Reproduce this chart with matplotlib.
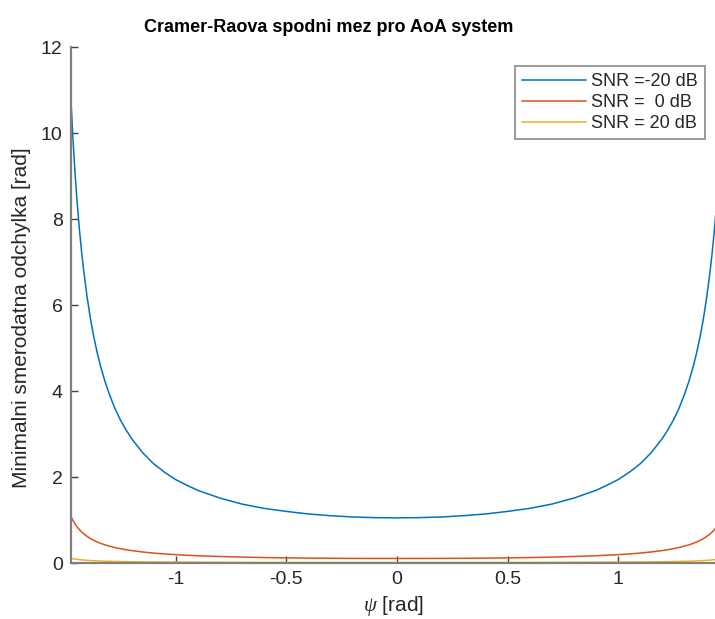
import matplotlib
matplotlib.use("Agg")
import matplotlib.pyplot as plt

plt.rcParams["font.family"] = ["Liberation Sans", "DejaVu Sans"]
plt.rcParams["axes.unicode_minus"] = False
plt.rcParams["mathtext.fontset"] = "custom"
plt.rcParams["mathtext.it"] = "Liberation Serif:italic"

# Angle psi [rad]
psi = [-1.473, -1.465, -1.455, -1.445, -1.435, -1.425, -1.415, -1.40, -1.385,
       -1.37, -1.355, -1.34, -1.32, -1.30, -1.275, -1.25, -1.225, -1.20,
       -1.15, -1.10, -1.05, -1.0, -0.95, -0.9, -0.8, -0.7, -0.6, -0.5, -0.4,
       -0.3, -0.2, -0.1, 0.0,
       0.1, 0.2, 0.3, 0.4, 0.5, 0.6, 0.7, 0.8, 0.9, 0.95, 1.0, 1.05, 1.10,
       1.15, 1.20, 1.225, 1.25, 1.275, 1.30, 1.32, 1.34, 1.355, 1.37, 1.385,
       1.40, 1.415, 1.425, 1.435, 1.442]

# Minimum standard deviation [rad] for each SNR
crb_m20 = [10.76, 9.94, 9.09, 8.37, 7.76, 7.23, 6.77, 6.18, 5.68, 5.26, 4.90,
           4.59, 4.23, 3.93, 3.60, 3.33, 3.10, 2.90, 2.57, 2.31, 2.11, 1.94,
           1.81, 1.69, 1.51, 1.37, 1.27, 1.20, 1.14, 1.10, 1.07, 1.055, 1.05,
           1.055, 1.07, 1.10, 1.14, 1.20, 1.27, 1.37, 1.51, 1.69, 1.81, 1.94,
           2.11, 2.31, 2.57, 2.90, 3.10, 3.33, 3.60, 3.93, 4.23, 4.59, 4.90,
           5.26, 5.68, 6.18, 6.77, 7.23, 7.76, 8.18]
crb_0 = [1.076, 0.994, 0.909, 0.837, 0.776, 0.723, 0.677, 0.618, 0.568, 0.526,
         0.490, 0.459, 0.423, 0.393, 0.360, 0.333, 0.310, 0.290, 0.257, 0.231,
         0.211, 0.194, 0.181, 0.169, 0.151, 0.137, 0.127, 0.120, 0.114, 0.110,
         0.107, 0.1055, 0.105,
         0.1055, 0.107, 0.110, 0.114, 0.120, 0.127, 0.137, 0.151, 0.169,
         0.181, 0.194, 0.211, 0.231, 0.257, 0.290, 0.310, 0.333, 0.360, 0.393,
         0.423, 0.459, 0.490, 0.526, 0.568, 0.618, 0.677, 0.723, 0.776, 0.818]
crb_20 = [0.1076, 0.0994, 0.0909, 0.0837, 0.0776, 0.0723, 0.0677, 0.0618,
          0.0568, 0.0526, 0.0490, 0.0459, 0.0423, 0.0393, 0.0360, 0.0333,
          0.0310, 0.0290, 0.0257, 0.0231, 0.0211, 0.0194, 0.0181, 0.0169,
          0.0151, 0.0137, 0.0127, 0.0120, 0.0114, 0.0110, 0.0107, 0.01055,
          0.0105,
          0.01055, 0.0107, 0.0110, 0.0114, 0.0120, 0.0127, 0.0137, 0.0151,
          0.0169, 0.0181, 0.0194, 0.0211, 0.0231, 0.0257, 0.0290, 0.0310,
          0.0333, 0.0360, 0.0393, 0.0423, 0.0459, 0.0490, 0.0526, 0.0568,
          0.0618, 0.0677, 0.0723, 0.0776, 0.0818]

labels = ["SNR =-20 dB", "SNR =  0 dB", "SNR = 20 dB"]
colors = ["#0072BD", "#D95319", "#EDB120"]

x_ticks = [-1, -0.5, 0, 0.5, 1]
x_ticklabels = ["-1", "-0.5", "0", "0.5", "1"]
y_ticks = [0, 2, 4, 6, 8, 10, 12]

fig = plt.figure(figsize=(7.15, 6.19), dpi=100)
ax = fig.add_axes([71 / 715, 56 / 619, 645 / 715, 516 / 619])

for series, lab, col in zip([crb_m20, crb_0, crb_20], labels, colors):
    ax.plot(psi, series, color=col, linewidth=1.1, label=lab,
            solid_joinstyle="round")

ax.set_xlim(-1.473, 1.442)
ax.set_ylim(0, 12)
ax.set_xticks(x_ticks)
ax.set_xticklabels(x_ticklabels)
ax.set_yticks(y_ticks)

for side in ["top", "right"]:
    ax.spines[side].set_visible(False)
for side in ["left", "bottom"]:
    ax.spines[side].set_color("#808080")
    ax.spines[side].set_linewidth(1.6)

ax.tick_params(direction="in", length=5, width=1.0, colors="#404040",
               labelsize=14, labelcolor="#262626", pad=6)

fig.text(329 / 715, 1 - 27 / 619, "Cramer-Raova spodni mez pro AoA system",
         fontsize=13, fontweight="bold", color="#000000",
         ha="center", va="center")
ax.set_xlabel(r"$\psi$ [rad]", fontsize=15, color="#262626", labelpad=4)
ax.set_ylabel("Minimalni smerodatna odchylka [rad]", fontsize=15,
              color="#262626", labelpad=6)
ax.yaxis.set_label_coords(-0.062, 0.475)

leg = ax.legend(loc="upper right", bbox_to_anchor=(0.983, 0.963),
                fontsize=13, frameon=True, fancybox=False, handlelength=3.5,
                handletextpad=0.3, borderpad=0.4, labelspacing=0.22,
                borderaxespad=0)
leg.get_frame().set_edgecolor("#808080")
leg.get_frame().set_linewidth(1.4)
for t in leg.get_texts():
    t.set_color("#262626")

fig.savefig("out.png", dpi=100)
